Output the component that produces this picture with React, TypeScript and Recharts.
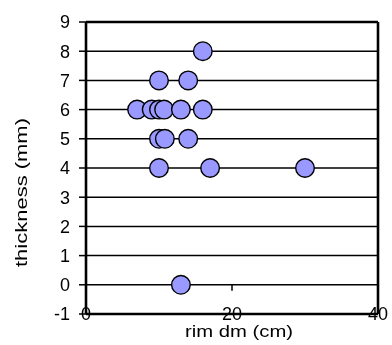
import React from 'react';
import {
  ScatterChart,
  Scatter,
  XAxis,
  YAxis,
  CartesianGrid,
  ReferenceLine,
} from 'recharts';

const rimDiameter = [16, 10, 14, 7, 9, 10, 10.7, 13, 16, 10, 10.8, 14, 10, 17, 30, 13];
const thickness = [8, 7, 7, 6, 6, 6, 6, 6, 6, 5, 5, 5, 4, 4, 4, 0];
const xTicks = [0, 20, 40];
const yTicks = [-1, 0, 1, 2, 3, 4, 5, 6, 7, 8, 9];
const xDomain = [0, 40];
const yDomain = [-1, 9];
const xTitle = 'rim dm (cm)';
const yTitle = 'thickness (mm)';

const data = rimDiameter.map((x, i) => ({ x, y: thickness[i] }));

const FONT = '"Liberation Sans", Arial, sans-serif';

const XTick = (props: any) => {
  const { x, y, payload } = props;
  return (
    <text x={x} y={y} dy="0.36em" textAnchor="middle" fontSize={18} fill="#000" fontFamily={FONT}>
      {payload.value}
    </text>
  );
};

const XTitle = (props: any) => {
  const vb = props.viewBox;
  return (
    <text
      x={vb.x + vb.width / 2 + 7}
      y={vb.y + 23}
      textAnchor="middle"
      fontSize={16}
      fill="#000"
      fontFamily={FONT}
      textLength={108}
      lengthAdjust="spacingAndGlyphs"
    >
      {xTitle}
    </text>
  );
};

const YTitle = (props: any) => {
  const vb = props.viewBox;
  const cx = vb.x + 26.7;
  const cy = vb.y + vb.height / 2 + 24.5;
  return (
    <text
      x={cx}
      y={cy}
      transform={`rotate(-90 ${cx} ${cy})`}
      textAnchor="middle"
      fontSize={16}
      fill="#000"
      fontFamily={FONT}
      textLength={149}
      lengthAdjust="spacingAndGlyphs"
    >
      {yTitle}
    </text>
  );
};

const Dot = (props: any) => {
  const { cx, cy } = props;
  return <circle cx={cx} cy={cy} r={9.3} fill="#9999FF" stroke="#000" strokeWidth={1.4} />;
};

export default function App() {
  return (
    <div style={{ position: 'fixed', left: 0, top: 0, width: 392, height: 345, fontFamily: FONT }}>
      <ScatterChart width={392} height={345} margin={{ top: 22, right: 14, bottom: 0, left: 0 }}>
        <CartesianGrid horizontal vertical={false} stroke="#000" strokeWidth={1.5} />
        <XAxis
          type="number"
          dataKey="x"
          domain={xDomain}
          ticks={xTicks}
          tickLine={false}
          axisLine={false}
          tickSize={0}
          tickMargin={0}
          tick={<XTick />}
          height={31}
          interval={0}
          label={<XTitle />}
          allowDataOverflow
        />
        <YAxis
          type="number"
          dataKey="y"
          domain={yDomain}
          ticks={yTicks}
          interval={0}
          width={86}
          tickSize={7}
          tickMargin={9}
          axisLine={false}
          tickLine={{ stroke: '#000', strokeWidth: 1.5 }}
          tick={{ fontSize: 18, fill: '#000', fontFamily: FONT }}
          label={<YTitle />}
          allowDataOverflow
        />
        {xTicks.map((t) => (
          <ReferenceLine
            key={`xt-${t}`}
            segment={[
              { x: t, y: 0 },
              { x: t, y: -0.2 },
            ]}
            stroke="#000"
            strokeWidth={1.5}
          />
        ))}
        {xDomain.map((v) => (
          <ReferenceLine key={`bx-${v}`} x={v} stroke="#000" strokeWidth={2.6} />
        ))}
        {yDomain.map((v) => (
          <ReferenceLine key={`by-${v}`} y={v} stroke="#000" strokeWidth={2.6} />
        ))}
        <Scatter data={data} shape={<Dot />} isAnimationActive={false} />
      </ScatterChart>
    </div>
  );
}
